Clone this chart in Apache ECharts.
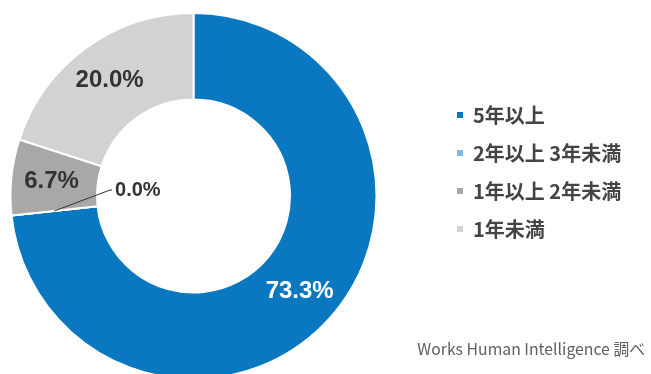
<!DOCTYPE html>
<html>
<head>
<meta charset="utf-8">
<script src="https://cdn.jsdelivr.net/npm/echarts@6/dist/echarts.min.js"></script>
<style>
html,body{margin:0;padding:0;background:#fff;}
#main{width:651px;height:374px;}
</style>
</head>
<body>
<div id="main"></div>
<script>
const categories = ['5年以上', '2年以上 3年未満', '1年以上 2年未満', '1年未満'];
const values = [73.3, 0.0, 6.7, 20.0];
const sourceNote = 'Works Human Intelligence 調べ';

const colors = ['#0a78c1', '#7dbbe6', '#a9a7a7', '#d2d2d2'];
const labelColors = ['#ffffff', '#333333', '#333333', '#333333'];

const chart = echarts.init(document.getElementById('main'), null, {renderer: 'canvas'});

const CENTER = [193.5, 196];
const RADIUS = [96.5, 183];
const fmt = p => p.value.toFixed(1) + '%';

// main ring: labels inside for non-zero slices
const ringData = categories.map((name, i) => ({
  name: name,
  value: values[i],
  itemStyle: {color: colors[i]},
  label: {show: values[i] !== 0, color: labelColors[i]}
}));

// overlay ring (invisible sectors) that carries the leader-line label of zero slices,
// drawn above the main ring so its leader line is visible over the sectors
const overlayData = categories.map((name, i) => ({
  name: name,
  value: values[i],
  label: {show: values[i] === 0},
  labelLine: {show: values[i] === 0}
}));

chart.setOption({
  animation: false,
  title: {
    text: sourceNote,
    right: 1,
    top: 336,
    textStyle: {fontSize: 15.8, fontWeight: 'normal', color: '#606060', fontFamily: 'Noto Sans CJK JP'}
  },
  legend: {
    orient: 'vertical',
    left: 455,
    top: 105,
    padding: 0,
    itemWidth: 8,
    itemHeight: 8,
    itemGap: 18,
    icon: 'rect',
    data: categories,
    textStyle: {
      fontSize: 20,
      lineHeight: 20,
      fontWeight: 'bold',
      color: '#444444',
      fontFamily: 'Noto Sans CJK JP',
      padding: [0, 0, 0, 4]
    }
  },
  series: [{
    type: 'pie',
    z: 2,
    center: CENTER,
    radius: RADIUS,
    startAngle: 90,
    clockwise: true,
    avoidLabelOverlap: false,
    itemStyle: {borderColor: '#ffffff', borderWidth: 2},
    label: {
      position: 'inside',
      fontSize: 24,
      fontWeight: 'bold',
      fontFamily: 'Liberation Sans, Arial, sans-serif',
      formatter: fmt
    },
    labelLine: {show: false},
    emphasis: {disabled: true},
    data: ringData
  }, {
    type: 'pie',
    z: 5,
    silent: true,
    legendHoverLink: false,
    center: CENTER,
    radius: RADIUS,
    startAngle: 90,
    clockwise: true,
    avoidLabelOverlap: false,
    itemStyle: {color: 'rgba(0,0,0,0)', borderWidth: 0},
    label: {
      position: 'outside',
      fontSize: 20,
      fontWeight: 'bold',
      color: '#333333',
      fontFamily: 'Liberation Sans, Arial, sans-serif',
      formatter: fmt
    },
    labelLine: {length: 5, length2: 5, lineStyle: {color: '#333333', width: 1}},
    labelLayout: function (p) {
      if (values[p.dataIndex] !== 0) return {};
      const lay = chart.getModel().getSeriesByIndex(1).getData().getItemLayout(p.dataIndex);
      if (!lay) return {};
      const a = lay.startAngle;
      const mr = (lay.r + lay.r0) / 2;
      const sx = lay.cx + mr * Math.cos(a);
      const sy = lay.cy + mr * Math.sin(a);
      const tx = lay.cx - lay.r0 * 0.813;
      const ty = lay.cy - 6;
      return {
        x: tx,
        y: ty,
        align: 'left',
        verticalAlign: 'middle',
        labelLinePoints: [[sx, sy], [tx - 5, ty], [tx - 3, ty]]
      };
    },
    emphasis: {disabled: true},
    data: overlayData
  }]
});
</script>
</body>
</html>
